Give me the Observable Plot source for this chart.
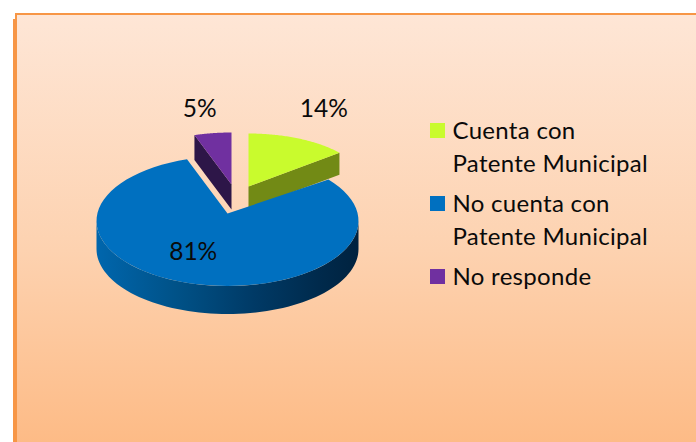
<!DOCTYPE html>
<html>
<head>
<meta charset="utf-8">
<script src="https://cdn.jsdelivr.net/npm/d3@7"></script>
<script src="https://cdn.jsdelivr.net/npm/@observablehq/plot@0.6"></script>
<style>
  html, body { margin: 0; padding: 0; background: #fff; width: 696px; height: 442px; overflow: hidden; }
  #panel { position: absolute; left: 13px; top: 13px; right: 0; bottom: 0; box-sizing: border-box;
    border-top: 2px solid #f79646; border-left: 4px solid #f79646;
    background: linear-gradient(to bottom, #fee6d6 0%, #fdd2b0 55%, #fdbb86 100%); }
  #notch { position: absolute; left: 13px; top: 13px; width: 2px; height: 6px; background: #fff; }
  #chart { position: absolute; left: 0; top: 0; }
  #legend { position: absolute; left: 430px; top: 113px; font-family: Lato, sans-serif; font-size: 24px;
    line-height: 33px; color: #0a0a0a; letter-spacing: 0.3px; }
  .item { position: relative; padding-left: 22.5px; margin-bottom: 7px; white-space: pre-line; }
  .sw { position: absolute; left: 0; top: 10px; width: 15px; height: 15px; }
</style>
</head>
<body>
<div id="panel"></div><div id="notch"></div>
<div id="chart"></div>
<div id="legend"></div>
<script>
const categories = ["Cuenta con\nPatente Municipal", "No cuenta con\nPatente Municipal", "No responde"];
const values = [14, 81, 5];
const topColors = ["#c9fb2d", "#0070c0", "#7030a0"];
const sideColors = ["#728a15", "url(#rim)", "#2d1648"];

// 3D layout of each exploded slice (centre of the ellipse, apex, radii, depth, label nudge)
const layout = [
  {cx: 248, cy: 186, ax: 248, ay: 186, rx: 118, ry: 53, depth: 22, lf: 1.0, ldx: 25, ldy: -29},
  {cx: 227, cy: 220.5, ax: 227, ay: 213, rx: 131, ry: 65, depth: 28, lf: 0.5, ldx: -16, ldy: 0},
  {cx: 231, cy: 185, ax: 231, ay: 184, rx: 120, ry: 53, depth: 25, lf: 1.0, ldx: -13, ldy: -24}
];

const slices = d3.pie().sort(null)(values);
const deg = Math.PI / 180;
const onEllipse = (g, t, dy = 0) => ({x: g.cx + g.rx * Math.sin(t), y: g.cy - g.ry * Math.cos(t) + dy});
const arcPts = (g, a, b, dy = 0) => d3.range(0, 73).map(i => onEllipse(g, a + (b - a) * i / 72, dy));

const faces = [];
slices.forEach((s, i) => {
  const g = layout[i], apex = {x: g.ax, y: g.ay}, apexLow = {x: g.ax, y: g.ay + g.depth};
  if (i === 0) { // green: cut face on its clockwise end
    const e = onEllipse(g, s.endAngle), e2 = onEllipse(g, s.endAngle, g.depth);
    faces.push({pts: [apex, e, e2, apexLow], fill: sideColors[i]});
  }
  if (i === 2) { // purple: cut face on its start
    const e = onEllipse(g, s.startAngle), e2 = onEllipse(g, s.startAngle, g.depth);
    faces.push({pts: [apex, e, e2, apexLow], fill: sideColors[i]});
  }
  if (i === 1) { // blue: rim on the front half
    const a = Math.max(s.startAngle, 90 * deg), b = Math.min(s.endAngle, 270 * deg);
    const upper = arcPts(g, a, b), lower = arcPts(g, b, a, g.depth);
    faces.push({pts: upper.concat(lower), fill: sideColors[i]});
  }
  faces.push({pts: [apex].concat(arcPts(g, s.startAngle, s.endAngle)), fill: topColors[i]});
});

const labels = slices.map((s, i) => {
  const g = layout[i], m = (s.startAngle + s.endAngle) / 2;
  return {
    x: g.cx + g.lf * g.rx * Math.sin(m) + g.ldx,
    y: g.cy - g.lf * g.ry * Math.cos(m) + g.ldy,
    t: values[i] + "%"
  };
});

const defs = () => {
  const d = d3.create("svg:defs");
  const lg = d.append("linearGradient").attr("id", "rim").attr("x1", 0).attr("x2", 1).attr("y1", 0).attr("y2", 0);
  [[0, "#0066ad"], [0.3, "#005288"], [0.6, "#003a66"], [0.85, "#002a4c"], [1, "#00223f"]].forEach(([o, c]) =>
    lg.append("stop").attr("offset", o).attr("stop-color", c));
  return d.node();
};

const plot = Plot.plot({
  width: 696, height: 442, margin: 0,
  style: {background: "transparent"},
  x: {domain: [0, 696], range: [0, 696], axis: null},
  y: {domain: [0, 442], range: [0, 442], axis: null},
  marks: [
    defs,
    ...faces.map(f => Plot.line(f.pts, {x: "x", y: "y", fill: f.fill, stroke: "none"})),
    Plot.text(labels, {x: "x", y: "y", text: "t", fontFamily: "Lato, sans-serif", fontSize: 24.5, fill: "#0a0a0a",
      style: {letterSpacing: "0.5px"}})
  ]
});
document.getElementById("chart").append(plot);

const legend = document.getElementById("legend");
categories.forEach((c, i) => {
  const it = document.createElement("div"); it.className = "item"; it.textContent = c;
  const sw = document.createElement("span"); sw.className = "sw"; sw.style.background = topColors[i];
  it.prepend(sw); legend.append(it);
});
</script>
</body>
</html>
